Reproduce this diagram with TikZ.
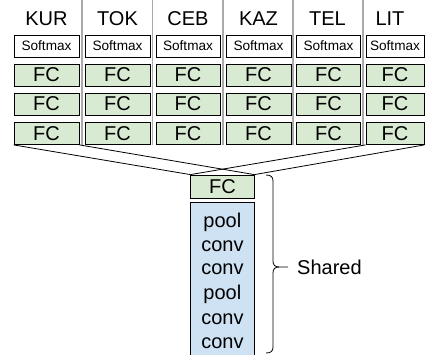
\documentclass[tikz,border=0pt]{standalone}
\usepackage{fontspec}
\setmainfont{Liberation Sans}
\definecolor{fcgreen}{HTML}{D9EAD3}
\definecolor{convblue}{HTML}{CFE2F3}
\definecolor{sepgray}{HTML}{AAAAAA}
\begin{document}
\begin{tikzpicture}[x=1pt,y=-1pt,
  box/.style={draw=black,line width=0.8pt,inner sep=0pt,minimum height=22pt},
  smbox/.style={box,fill=white,font=\fontsize{13.6}{16}\selectfont},
  fcbox/.style={box,fill=fcgreen,font=\fontsize{20}{24}\selectfont},
  lab/.style={inner sep=0pt,font=\fontsize{20}{24}\selectfont},
  sepline/.style={draw=sepgray,line width=1.8pt},
  link/.style={draw=black,line width=0.8pt}]
\useasboundingbox (0,0) rectangle (425,354);
% column separators
\foreach \sx in {82,152.5,223,293,363}
  \draw[sepline] (\sx,0) -- (\sx,145);
% columns
\foreach \n/\t/\cx/\w/\lx in {a/KUR/46.5/65/46.5, b/TOK/117.5/65/117.5, c/CEB/188/64/188, d/KAZ/258.5/65/258.5, e/TEL/328.5/64/327.5, f/LIT/395/58/390}{
  \node[lab] (lab\n) at (\lx,19) {\t};
  \node[smbox,minimum width=\w pt] (sm\n) at (\cx,46) {Softmax};
  \node[fcbox,minimum width=\w pt] (fa\n) at (\cx,75) {FC};
  \node[fcbox,minimum width=\w pt] (fb\n) at (\cx,104) {FC};
  \node[fcbox,minimum width=\w pt] (fc\n) at (\cx,133.5) {FC};
}
% shared part
\node[fcbox,minimum width=63.3pt,minimum height=23pt] (sfc) at (222.4,186.5) {FC};
\node[box,fill=convblue,minimum width=63.3pt,minimum height=156pt,anchor=north] (conv) at (222.4,202) {};
\foreach \i/\t/\by in {1/pool/227,2/conv/251,3/conv/274.5,4/pool/299,5/conv/324,6/conv/348}
  \node[lab,anchor=base] (l\i) at (222.4,\by) {\t};
% links
\draw[link] (fca.south west) -- (sfc.north west);
\draw[link] (fca.south east) -- (sfc.north east);
\draw[link] (fcf.south west) -- (sfc.north west);
\draw[link] (fcf.south east) -- (sfc.north east);
% brace
\draw[line width=0.8pt] (266,175) .. controls (271,175) and (273,177) .. (273,181) -- (273,261)
  .. controls (273,265) and (275,267) .. (279,267) -- (288,267);
\draw[line width=0.8pt] (266,353) .. controls (271,353) and (273,351) .. (273,347) -- (273,273)
  .. controls (273,269) and (275,267) .. (279,267);
\node[lab,anchor=west] (sharedlab) at (297,267) {Shared};
\end{tikzpicture}
\end{document}
